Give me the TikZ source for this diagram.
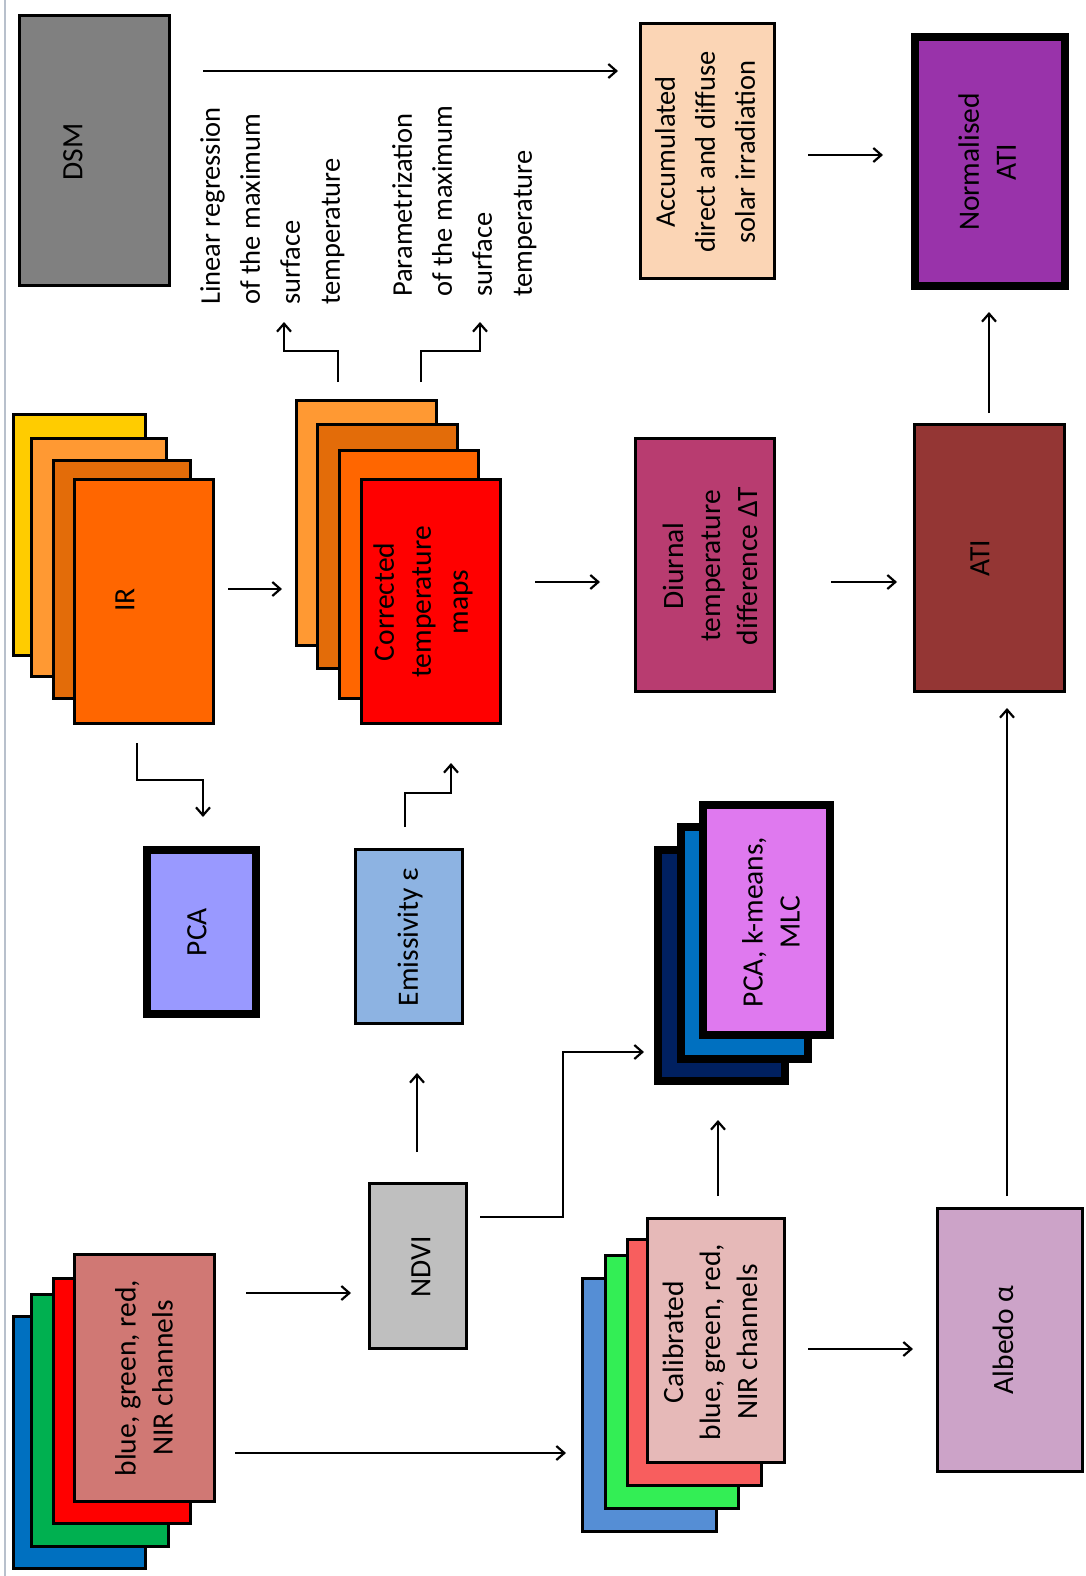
\documentclass[tikz,border=0pt]{standalone}
\usepackage{fontspec}
\setmainfont{Carlito}
\usetikzlibrary{arrows.meta}
\definecolor{dsmgray}{HTML}{808080}
\definecolor{accc}{HTML}{FBD5B5}
\definecolor{normc}{HTML}{9933AA}
\definecolor{irA}{HTML}{FFCC00}
\definecolor{irB}{HTML}{FF9933}
\definecolor{irC}{HTML}{E36C09}
\definecolor{irD}{HTML}{FF6600}
\definecolor{pured}{HTML}{FF0000}
\definecolor{diuc}{HTML}{B83C70}
\definecolor{atic}{HTML}{943634}
\definecolor{pcac}{HTML}{9999FF}
\definecolor{emisc}{HTML}{8DB3E2}
\definecolor{navyc}{HTML}{002060}
\definecolor{bluec}{HTML}{0070C0}
\definecolor{pinkc}{HTML}{DF79EF}
\definecolor{greenc}{HTML}{00B050}
\definecolor{rosec}{HTML}{D07874}
\definecolor{ndvic}{HTML}{BFBFBF}
\definecolor{calA}{HTML}{558ED5}
\definecolor{calB}{HTML}{33EE55}
\definecolor{calC}{HTML}{F85E5E}
\definecolor{calD}{HTML}{E6B9B8}
\definecolor{albc}{HTML}{CCA3C8}
\definecolor{edgegray}{HTML}{B8C0CC}
\newcommand\fs{\fontsize{29.5}{37}\selectfont}
\newcommand\fsb{\fontsize{28.5}{40}\selectfont}
% name, x1, y1, x2, y2, fill, line width
\newcommand\mybox[7]{\node[draw=black, line width=#7pt, fill=#6, inner sep=0pt,
  outer sep=#7pt/2, minimum width={#4-#2-#7}, minimum height={#5-#3-#7}]
  (#1) at ({(#2+#4)/2},{(#3+#5)/2}) {};}
\tikzset{
  lbl/.style={rotate=90, align=center, inner sep=0pt, font=\fs, text=black},
  arr/.style={draw=black, line width=2.2pt, -{Straight Barb[length=8pt,width=14pt]}}
}
\begin{document}
\begin{tikzpicture}[x=1pt,y=-1pt]
\useasboundingbox (0,0) rectangle (1086,1576);
\fill[white] (0,0) rectangle (1086,1576);
\draw[edgegray, line width=1.5pt] (5,0) -- (5,1576);

% boxes
\mybox{dsm}{18}{14}{171}{287}{dsmgray}{3}
\mybox{acc}{639}{22}{776}{280}{accc}{3}
\mybox{norm}{911}{33}{1069}{290}{normc}{8}
\mybox{ir1}{12}{413}{147}{657}{irA}{3}
\mybox{ir2}{30}{437}{168}{678}{irB}{3}
\mybox{ir3}{52}{459}{192}{700}{irC}{3}
\mybox{ir4}{73}{478}{215}{725}{irD}{3}
\mybox{cor1}{295}{399}{438}{647}{irB}{3}
\mybox{cor2}{316}{423}{459}{670}{irC}{3}
\mybox{cor3}{338}{449}{480}{700}{irD}{3}
\mybox{cor4}{360}{478}{502}{725}{pured}{3}
\mybox{diu}{634}{437}{776}{693}{diuc}{3}
\mybox{ati}{913}{423}{1066}{693}{atic}{3}
\mybox{pca}{143}{846}{260}{1018}{pcac}{8}
\mybox{emis}{354}{848}{464}{1025}{emisc}{3}
\mybox{cls1}{654}{846}{789}{1085}{navyc}{8}
\mybox{cls2}{677}{823}{812}{1063}{bluec}{8}
\mybox{cls3}{699}{801}{834}{1039}{pinkc}{8}
\mybox{bg1}{12}{1315}{147}{1570}{bluec}{3}
\mybox{bg2}{30}{1293}{170}{1548}{greenc}{3}
\mybox{bg3}{52}{1277}{192}{1525}{pured}{3}
\mybox{bg4}{73}{1253}{216}{1503}{rosec}{3}
\mybox{ndvi}{368}{1182}{468}{1350}{ndvic}{3}
\mybox{cal1}{581}{1277}{718}{1533}{calA}{3}
\mybox{cal2}{604}{1254}{740}{1510}{calB}{3}
\mybox{cal3}{626}{1238}{763}{1487}{calC}{3}
\mybox{cal4}{646}{1217}{786}{1464}{calD}{3}
\mybox{alb}{936}{1207}{1084}{1473}{albc}{3}

% texts
\node[lbl] (dsmt) at (73,152) {DSM};
\node[lbl] (irt) at (125,600) {IR};
\node[lbl] (cort) at (423,602) {Corrected\\temperature\\maps};
\node[lbl] (diut) at (710,566) {Diurnal\\temperature\\difference ΔT};
\node[lbl] (atit) at (980,558) {ATI};
\node[lbl, font=\fsb] (acct) at (705,152) {Accumulated\\direct and diffuse\\solar irradiation};
\node[lbl] (normt) at (987,162) {Normalised\\ATI};
\node[lbl] (pcat) at (197,932) {PCA};
\node[lbl] (emist) at (410,937) {Emissivity ε};
\node[lbl] (clst) at (771,922) {PCA, k-means,\\MLC};
\node[lbl] (bgt) at (144,1378) {blue, green, red,\\NIR channels};
\node[lbl] (ndvit) at (421,1267) {NDVI};
\node[lbl] (calt) at (710,1342) {Calibrated\\blue, green, red,\\NIR channels};
\node[lbl] (albt) at (1003,1340) {Albedo α};
\node[lbl, font=\fsb, align=left, anchor=north west] (lin) at (200,305)
  {Linear regression\\of the maximum\\surface\\temperature};
\node[lbl, font=\fsb, align=left, anchor=north west] (par) at (392,297)
  {Parametrization\\of the maximum\\surface\\temperature};

% connectors
\draw[arr, shorten <=32pt, shorten >=21pt] (dsm.east |- 0,71) -- (acc.west |- 0,71);
\draw[arr, shorten <=32pt, shorten >=28pt] (acc.east |- 0,155) -- (norm.west |- 0,155);
\draw[arr, shorten <=10pt, shorten >=22pt] (ati.north -| 989,0) -- (norm.south -| 989,0);
\draw[arr, shorten <=55pt, shorten >=16pt] (diu.east |- 0,582) -- (ati.west |- 0,582);
\draw[arr, shorten <=33pt, shorten >=34pt] (cor4.east |- 0,582) -- (diu.west |- 0,582);
\draw[arr, shorten <=13pt, shorten >=13pt] (ir4.east |- 0,589) -- (cor1.west |- 0,589);
\draw[arr, shorten <=17pt, shorten >=17pt] (cor1.north -| 338,0) |- (284,351) -- (lin.west -| 284,0);
\draw[arr, shorten <=17pt, shorten >=25pt] (cor1.north -| 421,0) |- (480,351) -- (par.west -| 480,0);
\draw[arr, shorten <=18pt, shorten >=29pt] (ir4.south -| 137,0) |- (203,780) -- (pca.north -| 203,0);
\draw[arr, shorten <=21pt, shorten >=38pt] (emis.north -| 405,0) |- (451,793) -- (cor4.south -| 451,0);
\draw[arr, shorten <=30pt, shorten >=48pt] (ndvi.north -| 417,0) -- (emis.south -| 417,0);
\draw[arr, shorten <=12pt, shorten >=10pt] (ndvi.east |- 0,1217) -| (563,1052) -- (cls1.west |- 0,1052);
\draw[arr, shorten <=30pt, shorten >=17pt] (bg4.east |- 0,1293) -- (ndvi.west |- 0,1293);
\draw[arr, shorten <=19pt, shorten >=15pt] (bg4.east |- 0,1453) -- (cal1.west |- 0,1453);
\draw[arr, shorten <=21pt, shorten >=35pt] (cal4.north -| 718,0) -- (cls1.south -| 718,0);
\draw[arr, shorten <=22pt, shorten >=23pt] (cal4.east |- 0,1349) -- (alb.west |- 0,1349);
\draw[arr, shorten <=11pt, shorten >=15pt] (alb.north -| 1007,0) -- (ati.south -| 1007,0);
\end{tikzpicture}
\end{document}
